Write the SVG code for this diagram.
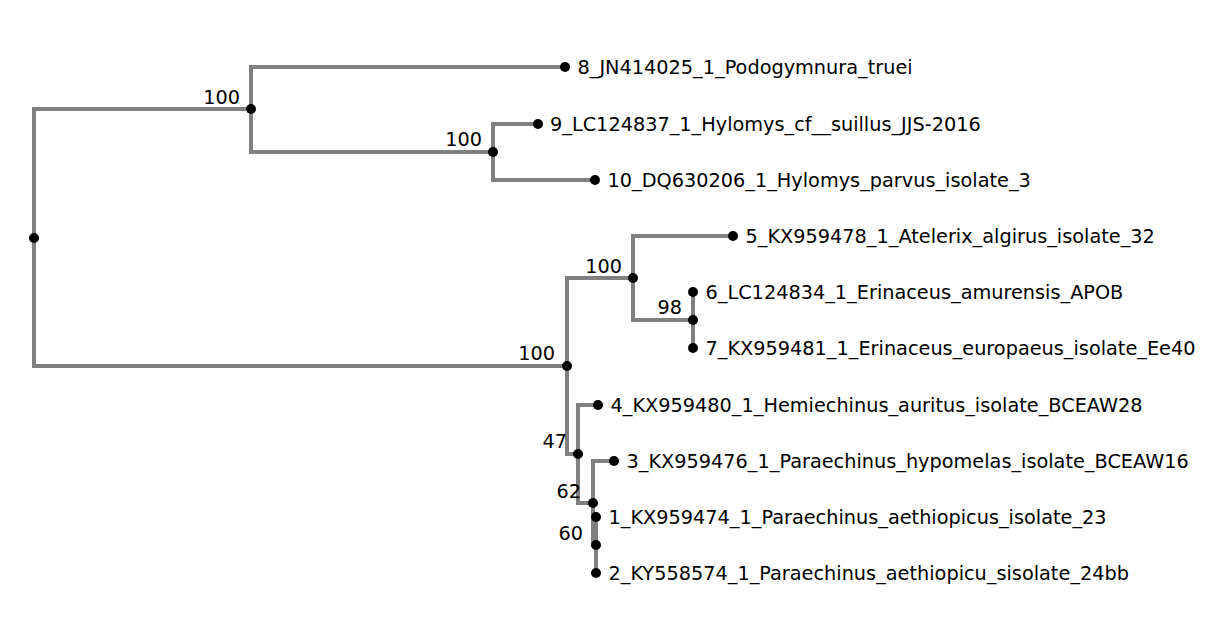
<svg xmlns="http://www.w3.org/2000/svg" width="1230" height="625" viewBox="0 0 1230 625">
<style>
.br{fill:none;stroke:#808080;stroke-width:4;stroke-linejoin:miter;stroke-linecap:butt}
.dot{fill:#000}
.lbl{font-family:"DejaVu Sans",Verdana,sans-serif;font-size:19.3px;fill:#000}
.bs{font-family:"DejaVu Sans",Verdana,sans-serif;font-size:19.3px;fill:#000;text-anchor:end}
</style>
<rect width="1230" height="625" fill="#fff"/>
<g id="connectors">
<path class="br" d="M34,238 V109 H251"/>
<path class="br" d="M34,238 V366 H567"/>
<path class="br" d="M251,109 V67 H565"/>
<path class="br" d="M251,109 V152 H493"/>
<path class="br" d="M493,152 V124 H538"/>
<path class="br" d="M493,152 V180 H595"/>
<path class="br" d="M567,366 V278 H633"/>
<path class="br" d="M567,366 V454 H578"/>
<path class="br" d="M633,278 V236 H733"/>
<path class="br" d="M633,278 V320 H693"/>
<path class="br" d="M693,320 V292"/>
<path class="br" d="M693,320 V348"/>
<path class="br" d="M578,454 V405 H598"/>
<path class="br" d="M578,454 V503 H593"/>
<path class="br" d="M593,503 V461 H614"/>
<path class="br" d="M593,503 V545 H596"/>
<path class="br" d="M596,545 V517"/>
<path class="br" d="M596,545 V573"/>
</g>
<g id="root"><circle class="dot" cx="34" cy="238" r="5"/></g>
<g id="nodeA"><circle class="dot" cx="251" cy="109" r="5"/><text class="bs" x="240" y="103.5">100</text></g>
<g id="nodeB"><circle class="dot" cx="493" cy="152" r="5"/><text class="bs" x="482" y="146">100</text></g>
<g id="nodeC"><circle class="dot" cx="567" cy="366" r="5"/><text class="bs" x="555" y="360">100</text></g>
<g id="nodeD"><circle class="dot" cx="633" cy="278" r="5"/><text class="bs" x="622" y="272.5">100</text></g>
<g id="nodeF"><circle class="dot" cx="693" cy="320" r="5"/><text class="bs" x="682" y="314">98</text></g>
<g id="nodeE"><circle class="dot" cx="578" cy="454" r="5"/><text class="bs" x="567" y="448">47</text></g>
<g id="nodeG"><circle class="dot" cx="593" cy="503" r="5"/><text class="bs" x="581" y="497.5">62</text></g>
<g id="nodeH"><circle class="dot" cx="596" cy="545" r="5"/><text class="bs" x="583" y="539.5">60</text></g>
<g id="leaf8"><circle class="dot" cx="565" cy="67" r="5"/><text class="lbl" x="577.5" y="73.5">8_JN414025_1_Podogymnura_truei</text></g>
<g id="leaf9"><circle class="dot" cx="538" cy="124" r="5"/><text class="lbl" x="550" y="130.5">9_LC124837_1_Hylomys_cf__suillus_JJS-2016</text></g>
<g id="leaf10"><circle class="dot" cx="595" cy="180" r="5"/><text class="lbl" x="607.5" y="186.5">10_DQ630206_1_Hylomys_parvus_isolate_3</text></g>
<g id="leaf5"><circle class="dot" cx="733" cy="236" r="5"/><text class="lbl" x="745.5" y="242.5">5_KX959478_1_Atelerix_algirus_isolate_32</text></g>
<g id="leaf6"><circle class="dot" cx="693" cy="292" r="5"/><text class="lbl" x="705.5" y="298.5">6_LC124834_1_Erinaceus_amurensis_APOB</text></g>
<g id="leaf7"><circle class="dot" cx="693" cy="348" r="5"/><text class="lbl" x="705.5" y="354.5">7_KX959481_1_Erinaceus_europaeus_isolate_Ee40</text></g>
<g id="leaf4"><circle class="dot" cx="598" cy="405" r="5"/><text class="lbl" x="610.5" y="411.5">4_KX959480_1_Hemiechinus_auritus_isolate_BCEAW28</text></g>
<g id="leaf3"><circle class="dot" cx="614" cy="461" r="5"/><text class="lbl" x="626.5" y="467.5">3_KX959476_1_Paraechinus_hypomelas_isolate_BCEAW16</text></g>
<g id="leaf1"><circle class="dot" cx="596" cy="517" r="5"/><text class="lbl" x="608.5" y="523.5">1_KX959474_1_Paraechinus_aethiopicus_isolate_23</text></g>
<g id="leaf2"><circle class="dot" cx="596" cy="573" r="5"/><text class="lbl" x="608.5" y="579.5">2_KY558574_1_Paraechinus_aethiopicu_sisolate_24bb</text></g>
</svg>
